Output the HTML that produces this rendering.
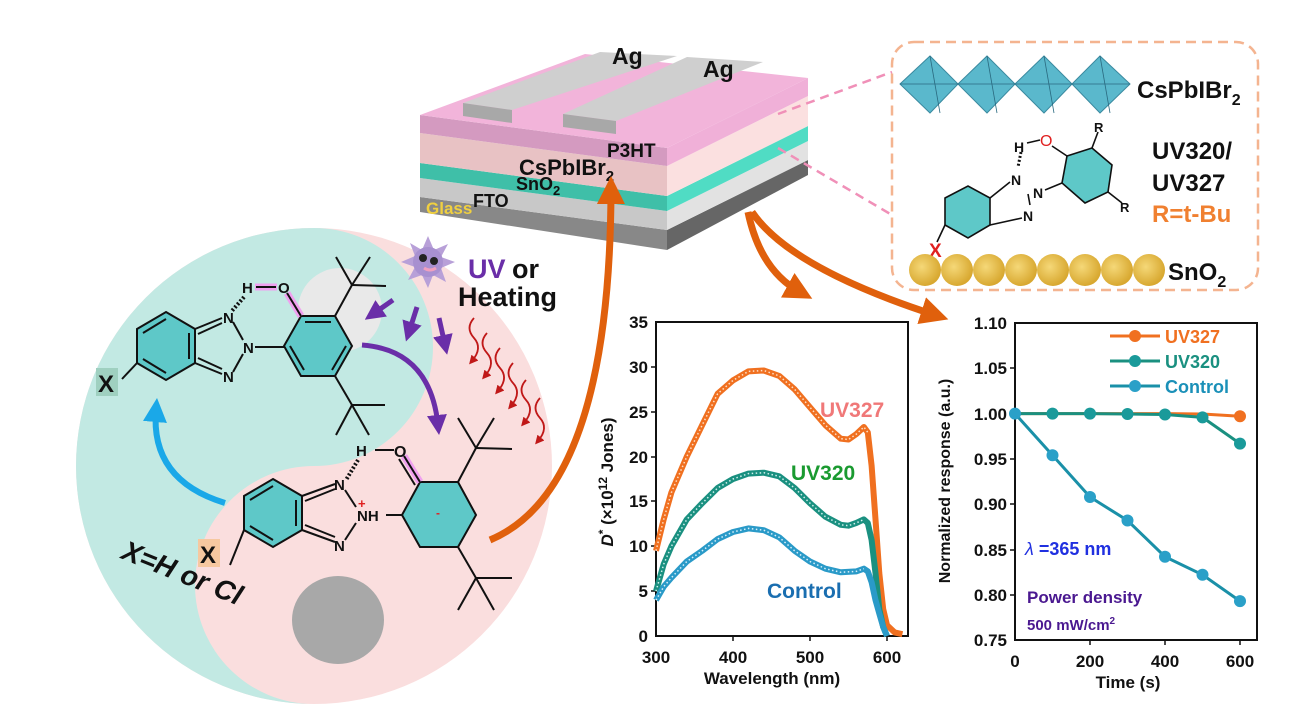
<!DOCTYPE html>
<html><head><meta charset="utf-8"><style>
html,body{margin:0;padding:0;background:#fff;overflow:hidden;}
svg{display:block;}
text{font-family:"Liberation Sans",sans-serif;font-weight:bold;}
</style></head><body>
<svg width="1310" height="704" viewBox="0 0 1310 704" xmlns="http://www.w3.org/2000/svg">
<defs>
<marker id="ao" markerWidth="4" markerHeight="4" refX="2" refY="2" orient="auto" markerUnits="strokeWidth"><path d="M0,0 L4,2 L0,4 Z" fill="#e0600c"/></marker>
<marker id="ap" markerWidth="4" markerHeight="4" refX="2" refY="2" orient="auto" markerUnits="strokeWidth"><path d="M0,0 L4,2 L0,4 Z" fill="#6a2ea8"/></marker>
<marker id="ab" markerWidth="4" markerHeight="4" refX="2" refY="2" orient="auto" markerUnits="strokeWidth"><path d="M0,0 L4,2 L0,4 Z" fill="#1aa8e8"/></marker>
<marker id="ar" markerWidth="5" markerHeight="5" refX="2.5" refY="2.5" orient="auto" markerUnits="strokeWidth"><path d="M0,0 L5,2.5 L0,5 Z" fill="#c01818"/></marker>
<radialGradient id="gs" cx="0.4" cy="0.4" r="0.6"><stop offset="0" stop-color="#f5d878"/><stop offset="1" stop-color="#d8a830"/></radialGradient>
</defs>

<!-- yin yang -->
<circle cx="314" cy="466" r="238" fill="#fadede"/>
<path d="M314,228 A238,238 0 0 0 314,704 A119,119 0 0 1 314,466 A119,119 0 0 0 314,228 Z" fill="#c2e9e3"/>
<circle cx="340" cy="310" r="42" fill="#e9e9e9"/>
<ellipse cx="338" cy="620" rx="46" ry="44" fill="#a8a8a8"/>

<!-- upper molecule -->
<g stroke="#111" stroke-width="2" fill="none">
<polygon points="166,312 195,329 195,363 166,380 137,363 137,329" fill="#5ec8c8"/>
<line x1="143" y1="333" x2="166" y2="319"/><line x1="143" y1="359" x2="166" y2="373"/><line x1="189" y1="333" x2="189" y2="359"/>
<line x1="195" y1="329" x2="222" y2="318"/><line x1="198" y1="334" x2="222" y2="323"/>
<line x1="195" y1="363" x2="222" y2="374"/><line x1="198" y1="358" x2="222" y2="369"/>
<line x1="233" y1="322" x2="243" y2="340"/><line x1="233" y1="372" x2="243" y2="354"/>
<line x1="255" y1="347" x2="284" y2="347"/>
<polygon points="301,316 335,316 352,346 335,376 301,376 284,346" fill="#5ec8c8"/>
<line x1="305" y1="322" x2="331" y2="322"/><line x1="290" y1="346" x2="304" y2="370"/><line x1="346" y1="346" x2="332" y2="370"/>
<line x1="301" y1="316" x2="287" y2="293" stroke="#f0a0f0" stroke-width="7"/>
<line x1="301" y1="316" x2="287" y2="293"/>
<line x1="335" y1="316" x2="352" y2="285"/><line x1="352" y1="285" x2="386" y2="286"/><line x1="352" y1="285" x2="336" y2="257"/><line x1="352" y1="285" x2="370" y2="257"/>
<line x1="335" y1="376" x2="352" y2="405"/><line x1="352" y1="405" x2="385" y2="405"/><line x1="352" y1="405" x2="336" y2="435"/><line x1="352" y1="405" x2="369" y2="435"/>
<line x1="122" y1="379" x2="137" y2="363"/>
<line x1="255" y1="287" x2="277" y2="287" stroke="#f0a0f0" stroke-width="7"/>
<line x1="256" y1="287" x2="276" y2="287"/>
<line x1="244" y1="297" x2="231" y2="312" stroke-dasharray="2 2" stroke-width="4"/>
</g>
<g fill="#111" style="font-weight:normal">
<text x="223" y="323" font-size="15">N</text><text x="243" y="353" font-size="15">N</text><text x="223" y="382" font-size="15">N</text>
<text x="242" y="293" font-size="15">H</text><text x="278" y="293" font-size="15">O</text>
</g>
<rect x="96" y="368" width="22" height="28" fill="#9fd0c0"/>
<text x="98" y="392" font-size="24" fill="#111">X</text>

<!-- lower molecule -->
<g stroke="#111" stroke-width="2" fill="none">
<polygon points="273,479 302,496 302,530 273,547 244,530 244,496" fill="#5ec8c8"/>
<line x1="250" y1="500" x2="273" y2="486"/><line x1="250" y1="526" x2="273" y2="540"/><line x1="296" y1="500" x2="296" y2="526"/>
<line x1="302" y1="496" x2="335" y2="484"/><line x1="305" y1="501" x2="335" y2="489"/>
<line x1="302" y1="530" x2="335" y2="542"/><line x1="305" y1="525" x2="335" y2="537"/>
<line x1="345" y1="490" x2="356" y2="507"/><line x1="345" y1="540" x2="356" y2="523"/>
<line x1="386" y1="515" x2="402" y2="515"/>
<polygon points="420,482 458,482 476,515 458,547 420,547 402,515" fill="#5ec8c8"/>
<line x1="420" y1="482" x2="404" y2="456" stroke="#f0a0f0" stroke-width="7"/>
<line x1="420" y1="482" x2="404" y2="456"/><line x1="415" y1="485" x2="399" y2="459"/>
<line x1="458" y1="482" x2="476" y2="448"/><line x1="476" y1="448" x2="512" y2="449"/><line x1="476" y1="448" x2="458" y2="418"/><line x1="476" y1="448" x2="494" y2="418"/>
<line x1="458" y1="547" x2="476" y2="578"/><line x1="476" y1="578" x2="512" y2="578"/><line x1="476" y1="578" x2="458" y2="610"/><line x1="476" y1="578" x2="494" y2="610"/>
<line x1="230" y1="565" x2="244" y2="530"/>
<line x1="375" y1="450" x2="394" y2="450"/>
<line x1="358" y1="460" x2="346" y2="480" stroke-dasharray="2 2" stroke-width="4"/>
</g>
<g fill="#111" style="font-weight:normal">
<text x="334" y="490" font-size="15">N</text><text x="357" y="521" font-size="15">NH</text><text x="334" y="551" font-size="15">N</text>
<text x="356" y="456" font-size="15">H</text><text x="394" y="457" font-size="16">O</text>
<text x="358" y="508" font-size="13" fill="#e02020">+</text><text x="436" y="517" font-size="12" fill="#e02020">-</text>
</g>
<rect x="198" y="539" width="22" height="28" fill="#f6c8a0"/>
<text x="200" y="563" font-size="24" fill="#111">X</text>
<text x="0" y="0" font-size="28" fill="#111" transform="translate(120,558) rotate(22)" font-style="italic">X=H or Cl</text>

<!-- sun -->
<g transform="translate(428,262)">
<polygon points="0,-26 6,-12 20,-18 13,-5 27,0 13,6 18,20 5,13 0,26 -6,13 -20,18 -13,5 -27,0 -13,-6 -18,-19 -6,-12" fill="#b8a0d8"/>
<circle r="15" fill="#a890d0"/><circle cx="-5" cy="-4" r="4" fill="#222"/><circle cx="6" cy="-1" r="4" fill="#222"/>
<path d="M-4,6 Q2,10 8,6" stroke="#f0a0c0" stroke-width="3" fill="none"/>
</g>
<text x="468" y="278" font-size="27" fill="#6a2ea8">UV</text><text x="512" y="278" font-size="27" fill="#111">or</text>
<text x="458" y="306" font-size="27" fill="#111">Heating</text>

<!-- purple arrows -->
<g stroke="#6a2ea8" stroke-width="5" fill="none">
<line x1="393" y1="300" x2="373" y2="314" marker-end="url(#ap)"/>
<line x1="417" y1="307" x2="409" y2="332" marker-end="url(#ap)"/>
<line x1="439" y1="318" x2="445" y2="345" marker-end="url(#ap)"/>
<path d="M362,345 Q430,350 438,425" marker-end="url(#ap)"/>
</g>
<!-- red waves -->
<g stroke="#c01818" stroke-width="1.8" fill="none">
<path d="M474,318 q-9,10 0,20 q9,10 -2,23" marker-end="url(#ar)"/>
<path d="M487,333 q-9,10 0,20 q9,10 -2,23" marker-end="url(#ar)"/>
<path d="M500,348 q-9,10 0,20 q9,10 -2,23" marker-end="url(#ar)"/>
<path d="M513,363 q-9,10 0,20 q9,10 -2,23" marker-end="url(#ar)"/>
<path d="M526,380 q-9,10 0,20 q9,10 -2,23" marker-end="url(#ar)"/>
<path d="M540,398 q-9,10 0,20 q9,10 -2,23" marker-end="url(#ar)"/>
</g>
<!-- blue arrow -->
<path d="M225,503 Q150,480 156,410" stroke="#1aa8e8" stroke-width="6" fill="none" marker-end="url(#ab)"/>

<!-- device -->
<polygon points="420,197 667,230 667,250 420,212" fill="#888"/>
<polygon points="667,230 808,160 808,175 667,250" fill="#666"/>
<polygon points="420,178 667,211 667,230 420,197" fill="#c8c8c8"/>
<polygon points="667,211 808,141 808,160 667,230" fill="#e2e2e2"/>
<polygon points="420,163 667,196 667,211 420,178" fill="#3fbfa8"/>
<polygon points="667,196 808,126 808,141 667,211" fill="#50dcc4"/>
<polygon points="420,133 667,166 667,196 420,163" fill="#e8c2c4"/>
<polygon points="667,166 808,96 808,126 667,196" fill="#fbe0e0"/>
<polygon points="420,115 667,148 667,166 420,133" fill="#d49ac0"/>
<polygon points="667,148 808,78 808,96 667,166" fill="#f0b0d8"/>
<polygon points="420,115 667,148 808,78 585,54" fill="#f2b4da"/>
<!-- Ag strips -->
<polygon points="463,103 512,110 677,56 600,52" fill="#cfcfcf"/>
<polygon points="463,103 512,110 512,123 463,116" fill="#a8a8a8"/>
<polygon points="563,114 616,121 763,62 687,57" fill="#cfcfcf"/>
<polygon points="563,114 616,121 616,134 563,127" fill="#a8a8a8"/>
<text x="612" y="64" font-size="23" fill="#111">Ag</text><text x="703" y="77" font-size="23" fill="#111">Ag</text>
<text x="607" y="157" font-size="19" fill="#111">P3HT</text>
<text x="519" y="175" font-size="22" fill="#111">CsPbIBr<tspan font-size="15" dy="6">2</tspan></text>
<text x="516" y="190" font-size="18" fill="#111">SnO<tspan font-size="13" dy="5">2</tspan></text>
<text x="473" y="207" font-size="18" fill="#111">FTO</text>
<text x="426" y="214" font-size="17" fill="#f0d040">Glass</text>

<!-- pink dashed -->
<g stroke="#f090b8" stroke-width="2.5" stroke-dasharray="9 6">
<line x1="778" y1="114" x2="892" y2="72"/><line x1="778" y1="148" x2="892" y2="215"/>
</g>

<!-- orange arrows -->
<g stroke="#e0600c" stroke-width="7" fill="none">
<path d="M490,540 Q610,490 611,190" marker-end="url(#ao)"/>
<path d="M748,212 Q760,270 800,292" marker-end="url(#ao)"/>
<path d="M752,212 Q790,268 935,315" marker-end="url(#ao)"/>
</g>

<!-- right box -->
<rect x="892" y="42" width="366" height="248" rx="22" fill="none" stroke="#f4b490" stroke-width="2.5" stroke-dasharray="10 6"/>
<g fill="#5ab8cc" stroke="#3a8aa0" stroke-width="1">
<polygon points="900,84 930,56 958,84 930,113"/>
<polygon points="958,84 987,56 1015,84 987,113"/>
<polygon points="1015,84 1044,56 1072,84 1044,113"/>
<polygon points="1072,84 1100,56 1130,84 1100,113"/>
</g>
<g stroke="#2a6a80" stroke-width="0.8"><line x1="900" y1="84" x2="958" y2="84"/><line x1="958" y1="84" x2="1015" y2="84"/><line x1="1015" y1="84" x2="1072" y2="84"/><line x1="1072" y1="84" x2="1130" y2="84"/>
<line x1="930" y1="56" x2="940" y2="113"/><line x1="987" y1="56" x2="997" y2="113"/><line x1="1044" y1="56" x2="1054" y2="113"/><line x1="1100" y1="56" x2="1110" y2="113"/></g>
<text x="1137" y="98" font-size="24" fill="#111">CsPbIBr<tspan font-size="16" dy="7">2</tspan></text>
<g stroke="#111" stroke-width="1.6" fill="none">
<polygon points="945,198 968,186 990,198 990,225 968,238 945,225" fill="#5ec8c8"/>
<line x1="990" y1="198" x2="1010" y2="182"/><line x1="990" y1="225" x2="1022" y2="218"/>
<line x1="1028" y1="194" x2="1030" y2="205"/><line x1="1045" y1="190" x2="1062" y2="183"/>
<polygon points="1067,156 1092,148 1112,165 1108,192 1085,203 1062,183" fill="#5ec8c8"/>
<line x1="1067" y1="156" x2="1052" y2="146"/><line x1="1092" y1="148" x2="1098" y2="132"/><line x1="1108" y1="192" x2="1122" y2="203"/>
<line x1="937" y1="242" x2="945" y2="225"/><line x1="1021" y1="152" x2="1018" y2="167" stroke-dasharray="2 2" stroke-width="3"/>
<line x1="1027" y1="143" x2="1040" y2="140"/>
</g>
<g fill="#111" style="font-weight:normal">
<text x="1011" y="185" font-size="14">N</text><text x="1033" y="198" font-size="14">N</text><text x="1023" y="221" font-size="14">N</text>
<text x="1014" y="152" font-size="14">H</text><text x="1094" y="132" font-size="13">R</text><text x="1120" y="212" font-size="13">R</text>
</g>
<text x="1040" y="146" font-size="16" fill="#e02020" style="font-weight:normal">O</text>
<text x="929" y="257" font-size="19" fill="#e02020">X</text>
<text x="1152" y="159" font-size="24" fill="#111">UV320/</text>
<text x="1152" y="191" font-size="24" fill="#111">UV327</text>
<text x="1152" y="222" font-size="24" fill="#f08030">R=t-Bu</text>
<g fill="url(#gs)">
<circle cx="925" cy="270" r="16"/><circle cx="957" cy="270" r="16"/><circle cx="989" cy="270" r="16"/><circle cx="1021" cy="270" r="16"/><circle cx="1053" cy="270" r="16"/><circle cx="1085" cy="270" r="16"/><circle cx="1117" cy="270" r="16"/><circle cx="1149" cy="270" r="16"/>
</g>
<text x="1168" y="280" font-size="24" fill="#111">SnO<tspan font-size="16" dy="7">2</tspan></text>

<!-- chart 1 -->
<rect x="656" y="322" width="252" height="314" fill="none" stroke="#111" stroke-width="2"/>
<g stroke="#111" stroke-width="1.5">
<line x1="656" y1="591" x2="651" y2="591"/><line x1="656" y1="546" x2="651" y2="546"/><line x1="656" y1="501" x2="651" y2="501"/><line x1="656" y1="457" x2="651" y2="457"/><line x1="656" y1="412" x2="651" y2="412"/><line x1="656" y1="367" x2="651" y2="367"/>
<line x1="733" y1="636" x2="733" y2="641"/><line x1="810" y1="636" x2="810" y2="641"/><line x1="887" y1="636" x2="887" y2="641"/>
</g>
<g font-size="17" fill="#111" text-anchor="end">
<text x="648" y="642">0</text><text x="648" y="597">5</text><text x="648" y="552">10</text><text x="648" y="507">15</text><text x="648" y="463">20</text><text x="648" y="418">25</text><text x="648" y="373">30</text><text x="648" y="328">35</text>
</g>
<g font-size="17" fill="#111" text-anchor="middle">
<text x="656" y="663">300</text><text x="733" y="663">400</text><text x="810" y="663">500</text><text x="887" y="663">600</text>
<text x="772" y="684">Wavelength (nm)</text>
</g>
<text transform="translate(613,482) rotate(-90)" font-size="17" fill="#111" text-anchor="middle"><tspan font-style="italic">D</tspan><tspan dy="-6" font-size="12">*</tspan><tspan dy="6"> (×10</tspan><tspan dy="-6" font-size="12">12</tspan><tspan dy="6"> Jones)</tspan></text>
<g fill="none" stroke-linejoin="round">
<polyline stroke="#f07020" stroke-width="6" points="656,550.8 663.7,519.4 671.4,492.5 686.8,456.6 702.2,425.1 717.6,393.8 733,380.4 748.4,371.4 763.8,370.5 779.2,375.9 794.6,389.3 810,407.3 825.4,425.2 840.8,438.7 848.5,439.5 856.2,434.2 863.9,427 867.8,432.4 871.6,465.6 875.5,519.4 879.3,573.2 883.2,609.1 887,625.2 894.7,632.4 902.4,634.2"/>
<polyline stroke="#fde0c8" stroke-width="1.5" stroke-dasharray="1.5 2.5" points="656,550.8 663.7,519.4 671.4,492.5 686.8,456.6 702.2,425.1 717.6,393.8 733,380.4 748.4,371.4 763.8,370.5 779.2,375.9 794.6,389.3 810,407.3 825.4,425.2 840.8,438.7 848.5,439.5 856.2,434.2 863.9,427 867.8,432.4"/>
<polyline stroke="#1a9080" stroke-width="6" points="656,591.2 663.7,564.2 671.4,546.3 686.8,519.4 702.2,503.2 717.6,488 733,479 748.4,473.6 763.8,472.7 779.2,476.3 794.6,488 810,503.2 825.4,516.7 840.8,524.8 848.5,525.7 856.2,523 863.9,519.4 867.8,523 871.6,540 875.5,573.2 879.3,609.1 883.2,627 887,636"/>
<polyline stroke="#d0f0ec" stroke-width="1.5" stroke-dasharray="1.5 2.5" points="656,591.2 663.7,564.2 671.4,546.3 686.8,519.4 702.2,503.2 717.6,488 733,479 748.4,473.6 763.8,472.7 779.2,476.3 794.6,488 810,503.2 825.4,516.7 840.8,524.8 848.5,525.7 856.2,523 863.9,519.4"/>
<polyline stroke="#2a9ac8" stroke-width="6" points="656,600.1 663.7,586.7 671.4,577.7 686.8,561.5 702.2,550.8 717.6,539.1 733,532 748.4,528.4 763.8,530.2 779.2,537.3 794.6,550.8 810,561.5 825.4,568.7 840.8,572.3 856.2,571.4 863.9,568.7 867.8,571.4 871.6,582.2 875.5,600.1 879.3,613.6 883.2,627 887,636"/>
<polyline stroke="#d8f0fa" stroke-width="1.5" stroke-dasharray="1.5 2.5" points="656,600.1 663.7,586.7 671.4,577.7 686.8,561.5 702.2,550.8 717.6,539.1 733,532 748.4,528.4 763.8,530.2 779.2,537.3 794.6,550.8 810,561.5 825.4,568.7 840.8,572.3 856.2,571.4 863.9,568.7"/>
</g>
<text x="820" y="417" font-size="21" fill="#f07878">UV327</text>
<text x="791" y="480" font-size="21" fill="#1a9a30">UV320</text>
<text x="767" y="598" font-size="21" fill="#1a6eb0">Control</text>

<!-- chart 2 -->
<rect x="1015" y="323" width="242" height="317" fill="none" stroke="#111" stroke-width="2"/>
<g stroke="#111" stroke-width="1.5">
<line x1="1015" y1="368" x2="1010" y2="368"/><line x1="1015" y1="414" x2="1010" y2="414"/><line x1="1015" y1="459" x2="1010" y2="459"/><line x1="1015" y1="504" x2="1010" y2="504"/><line x1="1015" y1="550" x2="1010" y2="550"/><line x1="1015" y1="595" x2="1010" y2="595"/>
<line x1="1090" y1="640" x2="1090" y2="645"/><line x1="1165" y1="640" x2="1165" y2="645"/><line x1="1240" y1="640" x2="1240" y2="645"/>
</g>
<g font-size="17" fill="#111" text-anchor="end">
<text x="1007" y="329">1.10</text><text x="1007" y="374">1.05</text><text x="1007" y="420">1.00</text><text x="1007" y="465">0.95</text><text x="1007" y="510">0.90</text><text x="1007" y="556">0.85</text><text x="1007" y="601">0.80</text><text x="1007" y="646">0.75</text>
</g>
<g font-size="17" fill="#111" text-anchor="middle">
<text x="1015" y="667">0</text><text x="1090" y="667">200</text><text x="1165" y="667">400</text><text x="1240" y="667">600</text>
<text x="1128" y="688">Time (s)</text>
</g>
<text transform="translate(950,481) rotate(-90)" font-size="16" fill="#111" text-anchor="middle">Normalized response (a.u.)</text>
<g stroke-width="3" fill="none">
<polyline stroke="#f07020" points="1015,413.6 1052.5,413.6 1090,413.6 1127.5,413.6 1165,413.6 1202.5,414 1240,416.3"/>
<polyline stroke="#1a9080" points="1015,413.6 1052.5,413.6 1090,413.6 1127.5,414 1165,414.5 1202.5,417.4 1240,443.6"/>
<polyline stroke="#1a90a8" points="1015,413.6 1052.5,455.3 1090,497 1127.5,520.5 1165,556.7 1202.5,574.8 1240,601.1"/>
</g>
<circle cx="1240" cy="416.3" r="6" fill="#f07020"/>
<g fill="#1a9a9a">
<circle cx="1052.5" cy="413.6" r="6"/><circle cx="1090" cy="413.6" r="6"/><circle cx="1127.5" cy="414" r="6"/><circle cx="1165" cy="414.5" r="6"/><circle cx="1202.5" cy="417.4" r="6"/><circle cx="1240" cy="443.6" r="6"/>
</g>
<g fill="#2aa0c8">
<circle cx="1015" cy="413.6" r="6"/><circle cx="1052.5" cy="455.3" r="6"/><circle cx="1090" cy="497" r="6"/><circle cx="1127.5" cy="520.5" r="6"/><circle cx="1165" cy="556.7" r="6"/><circle cx="1202.5" cy="574.8" r="6"/><circle cx="1240" cy="601.1" r="6"/>
</g>
<g stroke-width="3">
<line x1="1110" y1="336" x2="1160" y2="336" stroke="#f07020"/><circle cx="1135" cy="336" r="6" fill="#f07020"/>
<line x1="1110" y1="361" x2="1160" y2="361" stroke="#1a9080"/><circle cx="1135" cy="361" r="6" fill="#1a9a9a"/>
<line x1="1110" y1="386" x2="1160" y2="386" stroke="#1a90a8"/><circle cx="1135" cy="386" r="6" fill="#2aa0c8"/>
</g>
<text x="1165" y="343" font-size="18" fill="#f07020">UV327</text>
<text x="1165" y="368" font-size="18" fill="#1a9080">UV320</text>
<text x="1165" y="393" font-size="18" fill="#1a90b8">Control</text>
<text x="1025" y="555" font-size="18" fill="#2030e0"><tspan font-style="italic" style="font-weight:normal">λ</tspan> =365 nm</text>
<text x="1027" y="603" font-size="17" fill="#4a1890">Power density</text>
<text x="1027" y="630" font-size="15" fill="#4a1890">500 mW/cm<tspan font-size="10" dy="-6">2</tspan></text>
</svg>
</body></html>
